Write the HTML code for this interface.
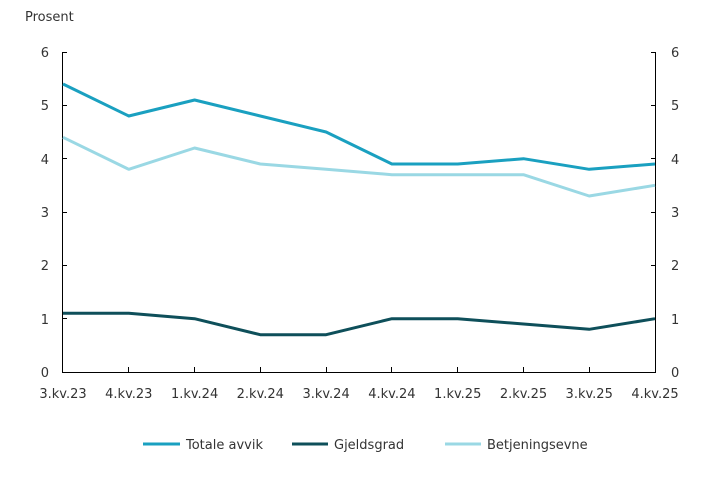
<!DOCTYPE html>
<html><head><meta charset="utf-8"><style>
body{margin:0;background:#fff;}
text{font-family:"DejaVu Sans","Liberation Sans",sans-serif;font-size:13px;fill:#333;}
</style></head><body>
<svg width="719" height="474" viewBox="0 0 719 474">
<text x="25" y="21">Prosent</text>
<g text-anchor="end">
<text x="49" y="57">6</text><text x="49" y="110">5</text><text x="49" y="164">4</text>
<text x="49" y="217">3</text><text x="49" y="270">2</text><text x="49" y="324">1</text><text x="49" y="377">0</text>
</g>
<g text-anchor="start">
<text x="671" y="57">6</text><text x="671" y="110">5</text><text x="671" y="164">4</text>
<text x="671" y="217">3</text><text x="671" y="270">2</text><text x="671" y="324">1</text><text x="671" y="377">0</text>
</g>
<g stroke="#000" stroke-width="1">
<line x1="62.5" y1="52" x2="62.5" y2="372"/>
<line x1="655.5" y1="52" x2="655.5" y2="372"/>
<line x1="62" y1="372.5" x2="656" y2="372.5"/>
<line x1="62" y1="52.5" x2="67" y2="52.5"/><line x1="62" y1="105.5" x2="67" y2="105.5"/><line x1="62" y1="158.5" x2="67" y2="158.5"/><line x1="62" y1="212.5" x2="67" y2="212.5"/><line x1="62" y1="265.5" x2="67" y2="265.5"/><line x1="62" y1="318.5" x2="67" y2="318.5"/>
<line x1="651" y1="52.5" x2="656" y2="52.5"/><line x1="651" y1="105.5" x2="656" y2="105.5"/><line x1="651" y1="158.5" x2="656" y2="158.5"/><line x1="651" y1="212.5" x2="656" y2="212.5"/><line x1="651" y1="265.5" x2="656" y2="265.5"/><line x1="651" y1="318.5" x2="656" y2="318.5"/>
<line x1="128.5" y1="367" x2="128.5" y2="372"/>
<line x1="194.5" y1="367" x2="194.5" y2="372"/><line x1="260.5" y1="367" x2="260.5" y2="372"/>
<line x1="326.5" y1="367" x2="326.5" y2="372"/><line x1="391.5" y1="367" x2="391.5" y2="372"/>
<line x1="457.5" y1="367" x2="457.5" y2="372"/><line x1="523.5" y1="367" x2="523.5" y2="372"/>
<line x1="589.5" y1="367" x2="589.5" y2="372"/>
</g>
<g text-anchor="middle">
<text x="63" y="398">3.kv.23</text><text x="128.8" y="398">4.kv.23</text><text x="194.6" y="398">1.kv.24</text>
<text x="260.3" y="398">2.kv.24</text><text x="326.1" y="398">3.kv.24</text><text x="391.9" y="398">4.kv.24</text>
<text x="457.7" y="398">1.kv.25</text><text x="523.5" y="398">2.kv.25</text><text x="589.2" y="398">3.kv.25</text>
<text x="655" y="398">4.kv.25</text>
</g>
<g fill="none" stroke-width="3" stroke-linejoin="round">
<polyline stroke="#9ad8e4" points="63,137.3 128.8,169.3 194.6,148 260.3,164 326.1,169.3 391.9,174.7 457.7,174.7 523.5,174.7 589.2,196 655,185.3"/>
<polyline stroke="#1aa0c0" points="63,84 128.8,116 194.6,100 260.3,116 326.1,132 391.9,164 457.7,164 523.5,158.7 589.2,169.3 655,164"/>
<polyline stroke="#0e4f5a" points="63,313.3 128.8,313.3 194.6,318.7 260.3,334.7 326.1,334.7 391.9,318.7 457.7,318.7 523.5,324 589.2,329.3 655,318.7"/>
</g>
<g stroke-width="3">
<line x1="143" y1="444" x2="180" y2="444" stroke="#1aa0c0"/>
<line x1="292" y1="444" x2="328" y2="444" stroke="#0e4f5a"/>
<line x1="445" y1="444" x2="481" y2="444" stroke="#9ad8e4"/>
</g>
<text x="186" y="449">Totale avvik</text>
<text x="334" y="449">Gjeldsgrad</text>
<text x="487" y="449">Betjeningsevne</text>
</svg>
</body></html>
